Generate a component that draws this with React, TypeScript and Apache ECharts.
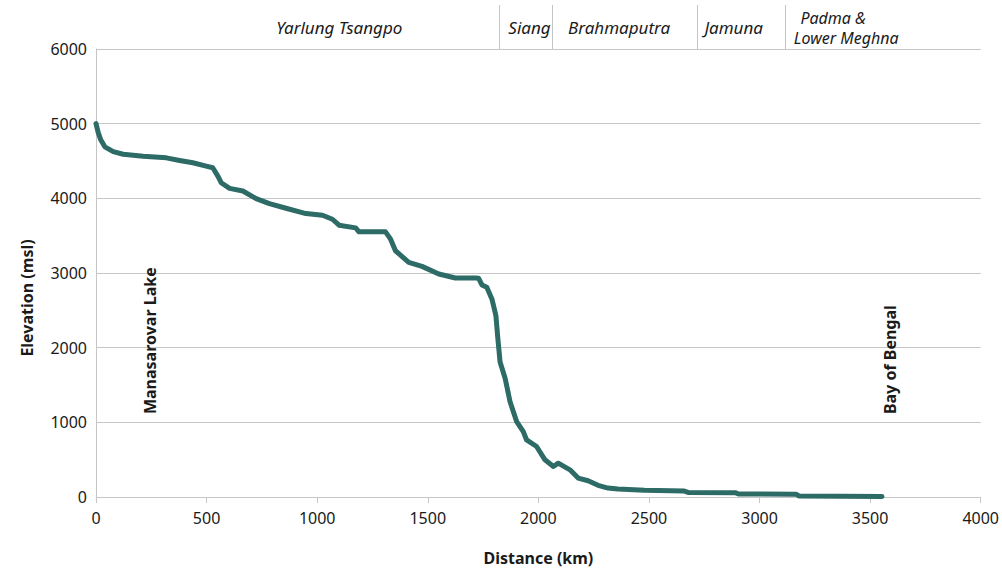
import React, { useEffect, useRef } from "react";
import * as echarts from "echarts";

const distanceKm = [0, 10, 22, 40, 78, 123, 213, 318, 378, 438, 498, 528, 551, 566, 604, 664, 724, 784, 859, 949, 1024, 1069, 1099, 1174, 1189, 1309, 1332, 1354, 1414, 1474, 1550, 1625, 1715, 1730, 1745, 1767, 1790, 1808, 1817, 1827, 1850, 1872, 1902, 1932, 1947, 1992, 2030, 2068, 2090, 2143, 2180, 2225, 2270, 2315, 2360, 2480, 2660, 2680, 2890, 2905, 3165, 3180, 3554];
const elevationM = [5000, 4880, 4780, 4690, 4625, 4590, 4564, 4542, 4507, 4476, 4431, 4409, 4298, 4209, 4133, 4098, 3996, 3929, 3867, 3796, 3773, 3720, 3640, 3604, 3551, 3551, 3453, 3298, 3142, 3089, 2987, 2933, 2933, 2929, 2840, 2809, 2653, 2431, 2120, 1809, 1587, 1276, 1009, 876, 764, 676, 498, 409, 453, 364, 253, 218, 156, 120, 107, 89, 80, 60, 58, 40, 38, 12, 8];

const xTicks = { min: 0, max: 4000, interval: 500 };
const yTicks = { min: 0, max: 6000, interval: 1000 };

const sectionBreaksKm = [1823, 2063, 2716, 3117];
const sectionNames = ["Yarlung Tsangpo", "Siang", "Brahmaputra", "Jamuna"];
const sectionCentersKm = [1100, 1960, 2365, 2883];
const lastSectionLines = ["Padma &", "Lower Meghna"];
const lastSectionStartKm = [3185, 3155];

const endpointNames = ["Manasarovar Lake", "Bay of Bengal"];
const endpointKm = [243, 3590];
const endpointBaseElev = 1110;

const yAxisTitle = "Elevation (msl)";
const xAxisTitle = "Distance (km)";

const FONT = "'Noto Sans', 'Open Sans', sans-serif";
const TEXT = "#1a1a1a";
const GRID = "#c6c6c6";

export default function App() {
  const ref = useRef<HTMLDivElement>(null);
  useEffect(() => {
    document.body.style.margin = "0";
    const chart = echarts.init(ref.current!, null, { renderer: "svg" });
    chart.setOption({
      animation: false,
      backgroundColor: "#fff",
      grid: { left: 96, right: 18, top: 49, bottom: 72 },
      xAxis: {
        type: "value",
        ...xTicks,
        name: xAxisTitle,
        nameLocation: "middle",
        nameGap: 53,
        nameTextStyle: { fontFamily: FONT, fontWeight: "bold", fontSize: 16, color: TEXT },
        axisLine: { show: true, lineStyle: { color: GRID, width: 1 } },
        axisTick: { show: true, length: 6, lineStyle: { color: GRID } },
        axisLabel: { margin: 13, fontFamily: FONT, fontSize: 16, color: TEXT, formatter: (v: number) => String(v) },
        splitLine: { show: false },
      },
      yAxis: {
        type: "value",
        ...yTicks,
        axisLine: { show: true, lineStyle: { color: GRID, width: 1 } },
        axisTick: { show: false },
        axisLabel: { margin: 9, fontFamily: FONT, fontSize: 16, color: TEXT, formatter: (v: number) => String(v) },
        splitLine: { show: true, lineStyle: { color: GRID, width: 1 } },
      },
      series: [
        {
          type: "line",
          data: distanceKm.map((d, i) => [d, elevationM[i]]),
          showSymbol: false,
          lineStyle: { color: "#2d6b66", width: 5, cap: "round", join: "round" },
          z: 3,
        },
      ],
    });

    const px = (km: number, elev: number) => chart.convertToPixel({ gridIndex: 0 }, [km, elev]) as number[];
    const topY = px(0, 6000)[1];
    const elements: any[] = [];
    sectionBreaksKm.forEach((km) => {
      const x = Math.round(px(km, 0)[0]) + 0.5;
      elements.push({ type: "line", shape: { x1: x, y1: 5, x2: x, y2: topY }, style: { stroke: GRID, lineWidth: 1 } });
    });
    sectionNames.forEach((name, i) => {
      elements.push({
        type: "text",
        x: px(sectionCentersKm[i], 0)[0],
        y: 27,
        style: { text: name, font: `italic 17px ${FONT}`, fill: TEXT, align: "center", verticalAlign: "middle" },
      });
    });
    lastSectionLines.forEach((line, i) => {
      elements.push({
        type: "text",
        x: px(lastSectionStartKm[i], 0)[0],
        y: 18 + i * 20,
        style: { text: line, font: `italic 16px ${FONT}`, fill: TEXT, align: "left", verticalAlign: "middle" },
      });
    });
    endpointNames.forEach((name, i) => {
      const p = px(endpointKm[i], endpointBaseElev);
      elements.push({
        type: "text",
        x: p[0],
        y: p[1],
        rotation: Math.PI / 2,
        style: { text: name, font: `bold 16px ${FONT}`, fill: TEXT, align: "left", verticalAlign: "middle" },
      });
    });
    elements.push({
      type: "text",
      x: 27,
      y: 298,
      rotation: Math.PI / 2,
      style: { text: yAxisTitle, font: `bold 16px ${FONT}`, fill: TEXT, align: "center", verticalAlign: "middle" },
    });
    chart.setOption({ graphic: elements });
    return () => chart.dispose();
  }, []);
  return <div ref={ref} style={{ width: 1002, height: 571 }} />;
}
